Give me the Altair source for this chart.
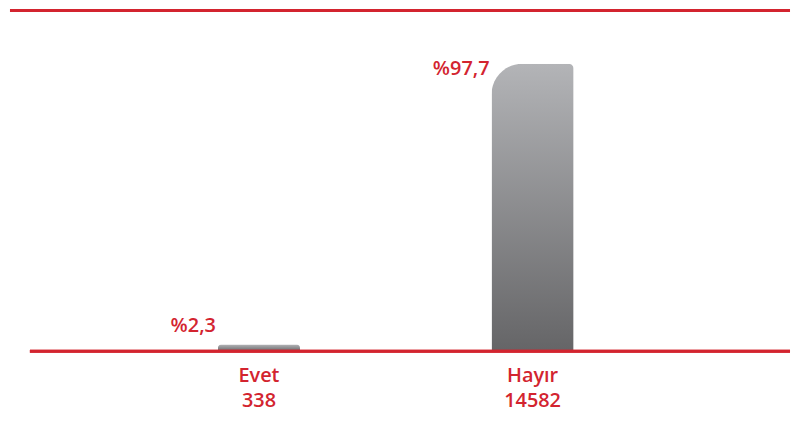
import altair as alt
import pandas as pd

# ---- data ----
categories = ["Evet", "Hayır"]
percents = [2.3, 97.7]
percent_labels = ["%2,3", "%97,7"]
counts = ["338", "14582"]

df = pd.DataFrame({
    "cat": categories,
    "pct": percents,
    "plabel": percent_labels,
    "count": counts,
})

RED = "#d3242f"
FONT = "Open Sans"
W, H = 784, 344

gradient = alt.Gradient(
    gradient="linear",
    stops=[alt.GradientStop(color="#b3b4b7", offset=0),
           alt.GradientStop(color="#656567", offset=1)],
    x1=0, x2=0, y1=0, y2=1,
)

xscale = alt.Scale(domain=categories, paddingInner=0.7, paddingOuter=0.7755, align=0.49)
yscale = alt.Scale(domain=[0, 116.3], nice=False, zero=True)

base = alt.Chart(df)
x = alt.X("cat:N", scale=xscale, axis=None, sort=categories)
xl = alt.X("cat:N", scale=xscale, axis=None, sort=categories, bandPosition=0)
y = alt.Y("pct:Q", scale=yscale, axis=None)

bar_evet = base.transform_filter(alt.datum.cat == "Evet").mark_bar(
    color=gradient, cornerRadiusTopLeft=4, cornerRadiusTopRight=4
).encode(x=x, y=y)

bar_hayir = base.transform_filter(alt.datum.cat == "Hayır").mark_bar(
    color=gradient, cornerRadiusTopLeft=31, cornerRadiusTopRight=5
).encode(x=x, y=y)

lab_evet = base.transform_filter(alt.datum.cat == "Evet").mark_text(
    align="right", baseline="alphabetic", dx=-2, dy=-13,
    font=FONT, fontSize=20, fontWeight=600, color=RED
).encode(x=xl, y=y, text="plabel:N")

lab_hayir = base.transform_filter(alt.datum.cat == "Hayır").mark_text(
    align="right", baseline="alphabetic", dx=-2, dy=11,
    font=FONT, fontSize=20, fontWeight=600, color=RED
).encode(x=xl, y=y, text="plabel:N")

cat_labels = base.transform_calculate(
    lab="[datum.cat, datum.count]"
).mark_text(
    align="center", baseline="alphabetic", lineHeight=25,
    font=FONT, fontSize=20, fontWeight=600, color=RED
).encode(x=x, y=alt.value(H + 31), text="lab:N")

top_rule = base.mark_rule(color=RED, strokeWidth=3).encode(
    x=alt.value(0), x2=alt.value(W), y=alt.value(1.5)
)

base_rule = base.mark_rule(color=RED, strokeWidth=3).encode(
    x=alt.value(20), x2=alt.value(W), y=alt.value(H)
)

chart = alt.layer(
    bar_evet, bar_hayir, base_rule, top_rule, lab_evet, lab_hayir, cat_labels
).properties(
    width=W, height=H, padding=0
).configure_view(stroke=None)

chart.save("out.html", embed_options={"renderer": "svg", "actions": False})
